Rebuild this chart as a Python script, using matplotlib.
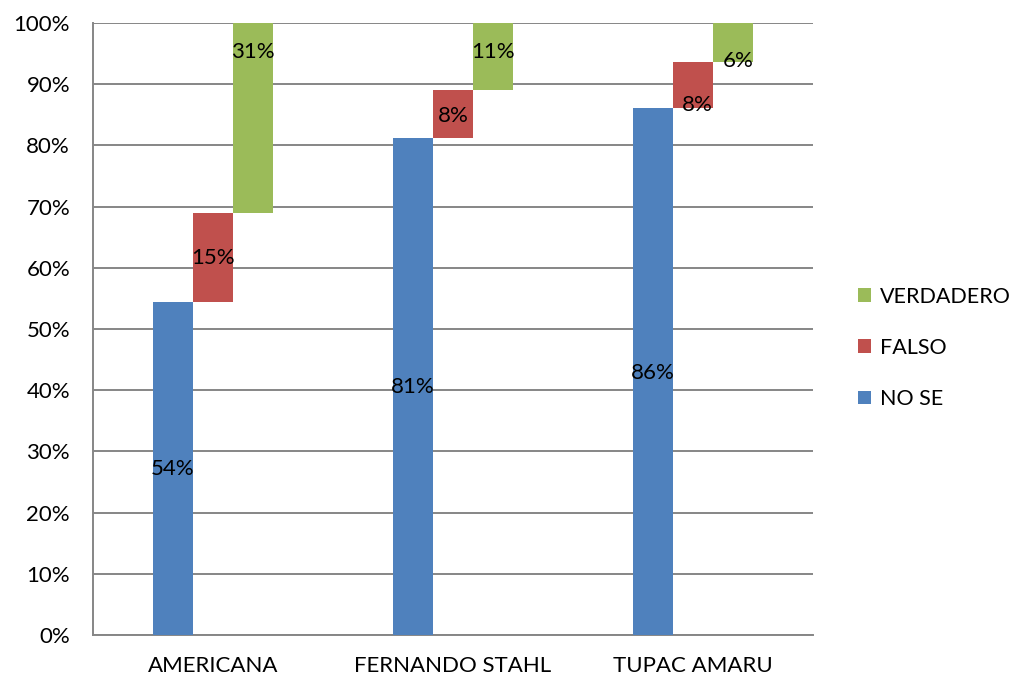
import numpy as np
import matplotlib.pyplot as plt
from matplotlib.patches import Patch

plt.rcParams['font.family'] = ['Lato', 'DejaVu Sans']

schools = ["AMERICANA", "FERNANDO STAHL", "TUPAC AMARU"]
no_se = [0.544, 0.812, 0.861]
falso = [0.146, 0.078, 0.075]
verdadero = [0.310, 0.110, 0.064]

series = [("NO SE", no_se, "#4f81bd"),
          ("FALSO", falso, "#c0504d"),
          ("VERDADERO", verdadero, "#9bbb59")]

# label heights (fraction of axis) for each series / school
label_y = [[0.272, 0.406, 0.428],
           [0.616, 0.848, 0.866],
           [0.953, 0.953, 0.938]]
label_dx = [[0, 0, 0],
            [0, 0, 0.02],
            [0, 0, 0.02]]

fig = plt.figure(figsize=(10.15, 6.82), dpi=100)
ax = fig.add_axes([0.0916, 0.0689, 0.7094, 0.8974])

x = np.arange(len(schools))
w = 1 / 6
bottom = np.zeros(len(schools))
for k, (name, vals, col) in enumerate(series):
    vals = np.array(vals)
    xs = x + (k - 1) * w
    ax.bar(xs, vals, width=w, bottom=bottom, color=col, zorder=3,
           edgecolor="none", clip_on=True)
    for i in range(len(schools)):
        ax.text(xs[i] + label_dx[k][i], label_y[k][i],
                "{:.0f}%".format(vals[i] * 100),
                ha="center", va="center", fontsize=16, color="black", zorder=4)
    bottom += vals

ax.set_xlim(-0.5, 2.5)
ax.set_ylim(0, 1)
ax.set_yticks(np.arange(0, 1.01, 0.1))
ax.set_yticklabels(["{:.0f}%".format(v * 100) for v in np.arange(0, 1.01, 0.1)])
ax.set_xticks(x)
ax.set_xticklabels(schools)
ax.tick_params(axis="both", length=0, labelsize=16, colors="black")
ax.tick_params(axis="y", pad=16.5)
ax.tick_params(axis="x", pad=15)
ax.grid(axis="y", color="#868686", linewidth=1.4, zorder=0)
for s in ["top", "right"]:
    ax.spines[s].set_visible(False)
for s in ["left", "bottom"]:
    ax.spines[s].set_color("#868686")
    ax.spines[s].set_linewidth(1.4)

handles = [Patch(facecolor=c, label=n) for n, _, c in reversed(series)]
fig.legend(handles=handles, loc="center left", bbox_to_anchor=(0.826, 0.49),
           frameon=False, fontsize=15.5, handlelength=0.6, handleheight=0.6,
           handletextpad=0.45, labelspacing=1.45)

fig.savefig("out.png", dpi=100)
